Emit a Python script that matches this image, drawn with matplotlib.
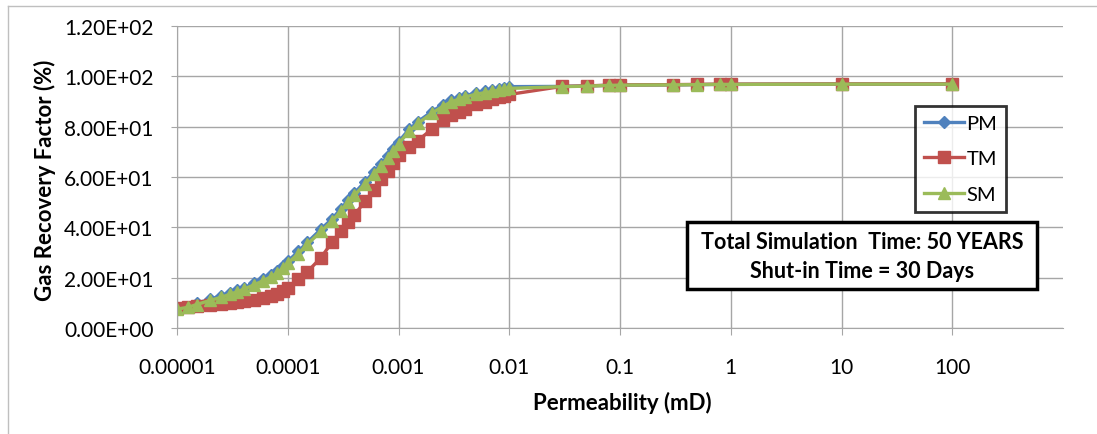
import matplotlib
matplotlib.use("Agg")
import matplotlib.pyplot as plt
from matplotlib.lines import Line2D
from matplotlib.patches import Rectangle
from matplotlib.ticker import FixedLocator, FuncFormatter

plt.rcParams['font.family'] = ['Lato', 'DejaVu Sans']

# Permeability (mD)
permeabilite = [1e-5, 1.25e-5, 1.5e-5, 2e-5, 2.5e-5, 3e-5, 3.5e-5, 4e-5, 5e-5, 6e-5, 7e-5, 8e-5, 9e-5,
                1e-4, 1.25e-4, 1.5e-4, 2e-4, 2.5e-4, 3e-4, 3.5e-4, 4e-4, 5e-4, 6e-4, 7e-4, 8e-4, 9e-4,
                1e-3, 1.25e-3, 1.5e-3, 2e-3, 2.5e-3, 3e-3, 3.5e-3, 4e-3, 5e-3, 6e-3, 7e-3, 8e-3, 9e-3,
                1e-2, 0.03, 0.05, 0.08, 0.1, 0.3, 0.5, 0.8, 1, 10, 100]

# Gas recovery factor (%)
pm = [7.5, 8.5, 9.8, 11.5, 12.8, 14.0, 15.0, 16.0, 17.8, 19.5, 21.0, 22.5, 24.5,
      26.5, 30.5, 34.0, 39.3, 43.3, 47.2, 50.8, 53.6, 58.2, 62.0, 65.3, 68.3, 71.0,
      74.0, 79.0, 82.0, 86.0, 88.7, 90.5, 91.5, 92.3, 93.4, 94.0, 94.5, 95.0, 95.4,
      95.9, 96.0, 96.2, 96.4, 96.5, 96.6, 96.7, 96.8, 96.8, 96.9, 96.9]

tm = [7.8, 8.4, 8.7, 9.1, 9.6, 10.1, 10.4, 10.7, 11.3, 12.0, 12.8, 13.6, 14.8,
      15.8, 19.5, 22.3, 28.0, 34.0, 38.5, 42.0, 45.0, 50.3, 55.0, 59.3, 62.3, 65.5,
      68.8, 72.0, 74.5, 79.0, 82.5, 84.5, 86.0, 87.2, 89.0, 90.0, 91.0, 91.6, 92.2,
      92.8, 96.0, 96.2, 96.5, 96.6, 96.7, 96.8, 96.9, 96.9, 97.0, 97.0]

sm = [7.5, 8.2, 9.3, 11.0, 12.2, 13.4, 14.4, 15.4, 17.2, 18.8, 20.3, 21.8, 23.7,
      25.7, 29.6, 33.2, 38.4, 42.4, 46.3, 49.9, 52.7, 57.3, 61.1, 64.5, 67.5, 70.2,
      73.2, 78.2, 81.3, 85.3, 88.0, 89.9, 90.9, 91.8, 92.9, 93.5, 94.0, 94.5, 94.9,
      95.2, 95.9, 96.1, 96.4, 96.5, 96.6, 96.7, 96.8, 96.8, 96.9, 96.9]

x_ticks = [1e-5, 1e-4, 1e-3, 1e-2, 1e-1, 1, 10, 100]
x_labels = ["0.00001", "0.0001", "0.001", "0.01", "0.1", "1", "10", "100"]
y_ticks = [0, 20, 40, 60, 80, 100, 120]

W, H = 1097, 435
fig = plt.figure(figsize=(W / 100, H / 100), dpi=100)
ax = fig.add_axes([177 / W, 1 - 329 / H, (1063 - 177) / W, (329 - 27) / H])

bleu, rouge, vert = '#4F81BD', '#C0504D', '#9BBB59'
ax.plot(permeabilite, pm, color=bleu, marker='D', markersize=6, linewidth=2.4, label='PM')
ax.plot(permeabilite, tm, color=rouge, marker='s', markersize=8.5, linewidth=2.4, label='TM')
ax.plot(permeabilite, sm, color=vert, marker='^', markersize=9, linewidth=2.4, label='SM')

ax.set_xscale('log')
ax.set_xlim(1e-5, 1e3)
ax.set_ylim(0, 120)
ax.xaxis.set_major_locator(FixedLocator(x_ticks))
ax.xaxis.set_minor_locator(FixedLocator([]))
ax.set_xticklabels(x_labels)
ax.set_yticks(y_ticks)
ax.yaxis.set_major_formatter(FuncFormatter(lambda v, p: f"{v:.2E}"))

gris = '#A6A6A6'
ax.grid(True, color=gris, linewidth=1.0)
ax.set_axisbelow(True)
for s in ['top', 'right']:
    ax.spines[s].set_visible(False)
for s in ['left', 'bottom']:
    ax.spines[s].set_color(gris)
ax.tick_params(axis='y', direction='out', length=4, color=gris, pad=13, labelsize=15)
ax.tick_params(axis='x', direction='out', length=5, color=gris, pad=16, labelsize=15)

fig.text(45 / W, 1 - 180 / H, "Gas Recovery Factor (%)", rotation=90, ha='center', va='center',
         fontsize=16, fontweight='bold')
fig.text(622 / W, 1 - 403 / H, "Permeability (mD)", ha='center', va='center',
         fontsize=16, fontweight='bold')

leg = ax.legend(loc='upper left', bbox_to_anchor=(915 / W, 1 - 107 / H), bbox_transform=fig.transFigure,
                fontsize=14.5, frameon=True, fancybox=False, handlelength=2.0, handletextpad=0.1,
                borderpad=0.45, labelspacing=0.9, borderaxespad=0)
leg.get_frame().set_edgecolor('black')
leg.get_frame().set_linewidth(2)

fig.add_artist(Rectangle((687 / W, 1 - 290 / H), 350 / W, 67 / H, transform=fig.transFigure,
                         facecolor='white', edgecolor='black', linewidth=2.5, zorder=5))
fig.text(862 / W, 1 - 243 / H, "Total Simulation  Time: 50 YEARS", ha='center', va='center',
         fontsize=15.5, fontweight='bold', zorder=6)
fig.text(862 / W, 1 - 272 / H, "Shut-in Time = 30 Days", ha='center', va='center',
         fontsize=15.5, fontweight='bold', zorder=6)

# bordure de la zone du graphique
fig.add_artist(Line2D([8 / W, 8 / W], [0, 1 - 7 / H], transform=fig.transFigure, color='#BFBFBF', linewidth=1))
fig.add_artist(Line2D([8 / W, 1], [1 - 7 / H, 1 - 7 / H], transform=fig.transFigure, color='#BFBFBF', linewidth=1))

fig.savefig("out.png", dpi=100)
